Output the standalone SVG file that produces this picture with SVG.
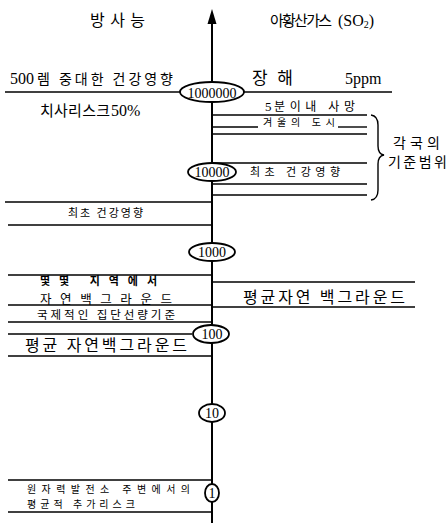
<svg xmlns="http://www.w3.org/2000/svg" width="447" height="523" viewBox="0 0 447 523">
<style>
.ln{stroke:#000;stroke-width:1.4;fill:none}
.ax{stroke:#000;stroke-width:2;fill:none}
.ko{font-family:"Noto Sans CJK KR","Noto Sans",sans-serif;fill:#000}
.num{font-family:"Liberation Serif","DejaVu Serif",serif;fill:#000}
.el{fill:#fff;stroke:#000;stroke-width:1.8}
</style>
<rect width="447" height="523" fill="#fff"/>
<g id="connectors">
<line class="ax" x1="212" y1="20" x2="212" y2="523"/>
<polygon points="212,9 207.5,24 216.5,24" fill="#000"/>
<line class="ln" x1="5" y1="92" x2="392" y2="92"/>
<line class="ln" x1="212" y1="115" x2="367" y2="115"/>
<line class="ln" x1="212" y1="127" x2="258" y2="127"/>
<line class="ln" x1="338" y1="127" x2="367" y2="127"/>
<line class="ln" x1="212" y1="134" x2="367" y2="134"/>
<line class="ln" x1="212" y1="163" x2="367" y2="163"/>
<line class="ln" x1="212" y1="184" x2="367" y2="184"/>
<line class="ln" x1="212" y1="195" x2="367" y2="195"/>
<line class="ln" x1="5" y1="202" x2="212" y2="202"/>
<line class="ln" x1="8" y1="225" x2="212" y2="225"/>
<line class="ln" x1="8" y1="275" x2="212" y2="275"/>
<line class="ln" x1="212" y1="282" x2="415" y2="282"/>
<line class="ln" x1="8" y1="305" x2="212" y2="305"/>
<line class="ln" x1="212" y1="307" x2="415" y2="307"/>
<line class="ln" x1="8" y1="322" x2="212" y2="322"/>
<line class="ln" x1="8" y1="334" x2="192" y2="334"/>
<line class="ln" x1="8" y1="356" x2="212" y2="356"/>
<line class="ln" x1="8" y1="480" x2="212" y2="480"/>
<line class="ln" x1="8" y1="512" x2="212" y2="512"/>
<path class="ln" d="M371,115 Q378,116 378,125 L378,146 Q378,154 384,155 Q378,156 378,164 L378,190 Q378,199 371,200"/>
</g>
<g id="headers">
<text class="ko" x="90" y="26" font-size="16" textLength="55" lengthAdjust="spacing">방사능</text>
<text class="ko" x="270" y="26" font-size="15" textLength="62" lengthAdjust="spacing">아황산가스</text>
<text class="num" x="338" y="26" font-size="16">(SO<tspan font-size="10" dy="2">2</tspan><tspan dy="-2">)</tspan></text>
</g>
<g id="n1000000">
<text class="num" x="10" y="84" font-size="16">500</text>
<text class="ko" x="37" y="84" font-size="14" textLength="136" lengthAdjust="spacing">렘 중대한 건강영향</text>
<text class="ko" x="40" y="116" font-size="15" textLength="70" lengthAdjust="spacing">치사리스크</text>
<text class="num" x="111" y="116" font-size="16">50%</text>
<text class="ko" x="252" y="84" font-size="17" textLength="41" lengthAdjust="spacing">장해</text>
<text class="num" x="345" y="84" font-size="16">5ppm</text>
<ellipse class="el" cx="212" cy="92" rx="32" ry="10"/>
<text class="num" x="212" y="97.5" font-size="14" text-anchor="middle">1000000</text>
<text class="num" x="265" y="111" font-size="13">5</text>
<text class="ko" x="274" y="111" font-size="12" textLength="81" lengthAdjust="spacing">분이내 사망</text>
<text class="ko" x="263" y="126" font-size="10" textLength="72" lengthAdjust="spacing">겨울의 도시</text>
</g>
<g id="range">
<text class="ko" x="393" y="148" font-size="14" textLength="47" lengthAdjust="spacing">각국의</text>
<text class="ko" x="388" y="167" font-size="14" textLength="59" lengthAdjust="spacing">기준범위</text>
</g>
<g id="n10000">
<ellipse class="el" cx="212" cy="172" rx="24" ry="9"/>
<text class="num" x="212" y="177" font-size="14" text-anchor="middle">10000</text>
<text class="ko" x="250" y="176" font-size="11" textLength="90" lengthAdjust="spacing">최초 건강영향</text>
<text class="ko" x="68" y="217" font-size="11" textLength="75" lengthAdjust="spacing">최초 건강영향</text>
</g>
<g id="n1000">
<ellipse class="el" cx="212" cy="252" rx="23" ry="9"/>
<text class="num" x="212" y="257" font-size="14" text-anchor="middle">1000</text>
<text class="ko" x="40" y="285" font-size="11" font-weight="bold" textLength="117" lengthAdjust="spacing">몇몇 지역에서</text>
<text class="ko" x="40" y="303.5" font-size="12.5" textLength="132" lengthAdjust="spacing">자연백그라운드</text>
<text class="ko" x="243" y="303" font-size="16" textLength="162" lengthAdjust="spacing">평균자연 백그라운드</text>
<text class="ko" x="37" y="319" font-size="11.5" textLength="138" lengthAdjust="spacing">국제적인 집단선량기준</text>
</g>
<g id="n100">
<ellipse class="el" cx="211" cy="334" rx="18" ry="9"/>
<text class="num" x="212" y="339" font-size="14" text-anchor="middle">100</text>
<text class="ko" x="25" y="351" font-size="16" textLength="162" lengthAdjust="spacing">평균 자연백그라운드</text>
</g>
<g id="n10">
<ellipse class="el" cx="212" cy="413" rx="13" ry="9"/>
<text class="num" x="212" y="418" font-size="14" text-anchor="middle">10</text>
</g>
<g id="n1">
<ellipse class="el" cx="212" cy="493" rx="7" ry="9"/>
<text class="num" x="212" y="498" font-size="14" text-anchor="middle">1</text>
<text class="ko" x="27" y="492.5" font-size="10" textLength="163" lengthAdjust="spacing">원자력발전소 주변에서의</text>
<text class="ko" x="27" y="507.5" font-size="10" textLength="108" lengthAdjust="spacing">평균적 추가리스크</text>
</g>
</svg>
